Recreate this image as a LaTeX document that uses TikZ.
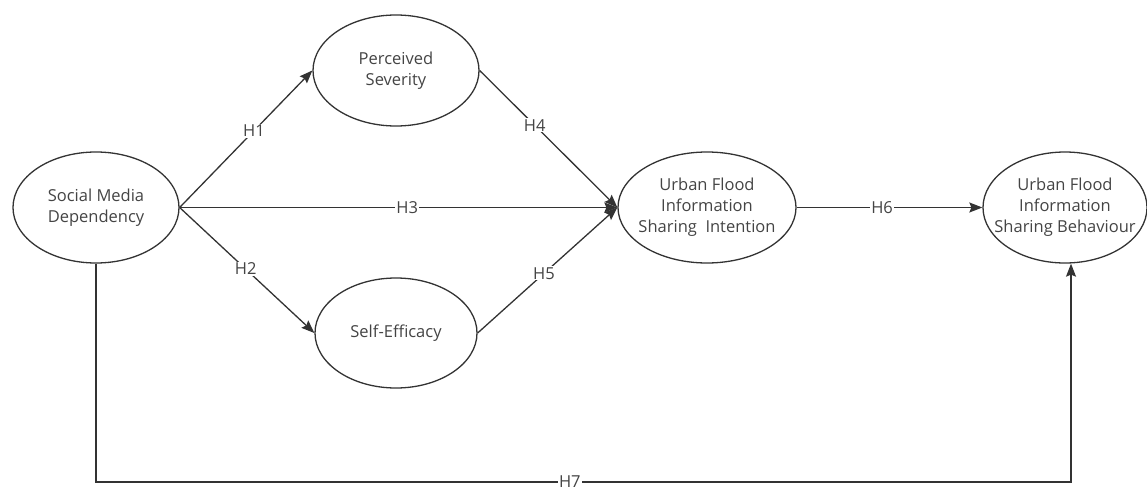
\documentclass[tikz,border=0pt]{standalone}
\usepackage{fontspec}
\setmainfont{Open Sans}
\usetikzlibrary{arrows.meta,shapes.geometric}
\definecolor{ln}{HTML}{333333}
\definecolor{tx}{HTML}{444444}
\tikzset{
  txt/.style={align=center,text=tx,inner sep=0pt,font=\fontsize{16.5}{21}\selectfont},
  ell/.style={ellipse,draw=ln,line width=1.3pt,inner sep=0pt,label={[txt]center:#1}},
  con/.style={draw=ln,line width=1.3pt,-{Stealth[length=13pt,width=10pt,inset=2pt]}},
  lbl/.style={fill=white,text=tx,inner sep=1pt,font=\fontsize{16.5}{18}\selectfont}
}
\begin{document}
\begin{tikzpicture}[x=1pt,y=-1pt]
\useasboundingbox (0,0) rectangle (1147,487);
\node[ell={Social Media\\Dependency},minimum width=166pt,minimum height=111pt] (smd) at (96,207.5) {};
\node[ell={Perceived\\Severity},minimum width=166pt,minimum height=111pt] (ps) at (396,70.5) {};
\node[ell={Self-Efficacy},minimum width=162pt,minimum height=110pt] (se) at (396,333) {};
\node[ell={Urban Flood\\Information\\Sharing\ \ Intention},minimum width=178pt,minimum height=111pt] (int) at (707,207.5) {};
\node[ell={Urban Flood\\Information\\Sharing Behaviour},minimum width=164pt,minimum height=111pt] (beh) at (1065,207.5) {};
\coordinate (h7) at (1071,482);
\draw[con] (smd.east) -- node[lbl,pos=0.56] {H1} (ps.west);
\draw[con] (smd.east) -- node[lbl,pos=0.49] {H2} (se.west);
\draw[con] (smd.east) -- node[lbl,pos=0.52] {H3} (int.west);
\draw[con] (ps.east) -- node[lbl,pos=0.40] {H4} (int.west);
\draw[con] (se.east) -- node[lbl,pos=0.475] {H5} (int.west);
\draw[con] (int.east) -- node[lbl,pos=0.46] {H6} (beh.west);
\draw[con] (smd.south) |- node[lbl,pos=0.743] {H7} (h7) -- (beh.south -| h7);
\end{tikzpicture}
\end{document}
